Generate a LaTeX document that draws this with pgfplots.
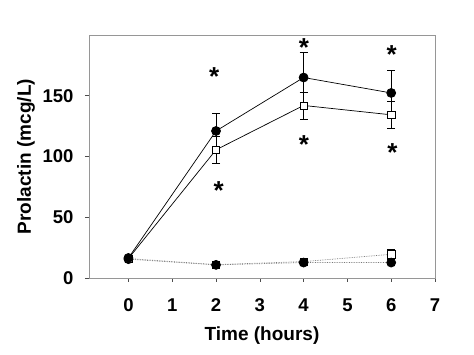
\documentclass[border=0pt]{standalone}
\usepackage{fontspec}
\setmainfont{Liberation Sans}
\usepackage{pgfplots}
\pgfplotsset{compat=1.18}
\usetikzlibrary{calc}
\definecolor{framegray}{RGB}{150,150,150}
\definecolor{dotgray}{RGB}{120,120,120}
\begin{document}
\begin{tikzpicture}
\begin{axis}[
  name=ax, scale only axis, width=346pt, height=243pt,
  xmin=-0.9, xmax=7, ymin=0, ymax=200,
  xtick={0,1,2,3,4,5,6,7}, ytick={0,50,100,150},
  axis line style={draw=framegray, line width=0.8pt},
  tick align=outside, xtick pos=left, ytick pos=left,
  major tick length=4pt,
  tick style={draw=black!70, line width=0.6pt},
  /pgf/number format/assume math mode=true,
  ticklabel style={font=\fontsize{18.5}{20}\selectfont\bfseries},
  xticklabel style={anchor=center, yshift=-23pt},
  yticklabel style={anchor=east, xshift=-8pt},
  xlabel={Time (hours)}, ylabel={Prolactin (mcg/L)},
  label style={font=\fontsize{19}{22}\selectfont\bfseries},
  xlabel style={at={(axis description cs:0.5,-0.236)}, anchor=center},
  ylabel style={at={(axis description cs:-0.182,0.5)}, anchor=center},
  clip=false,
  error bars/error bar style={black, line width=0.6pt, solid},
  error bars/error mark options={rotate=90, mark size=4pt, black, line width=0.6pt, solid},
]
% dotted series (controls)
\addplot[dotgray, densely dotted, line width=0.7pt, mark=square*, mark size=3.6pt,
  mark options={solid, fill=white, draw=black, line width=0.6pt},
  error bars/.cd, y dir=both, y explicit]
  coordinates {(0,16) +- (0,1) (2,11) +- (0,1) (4,13.5) +- (0,1.5) (6,19.5) +- (0,4.5)};
\addplot[dotgray, densely dotted, line width=0.7pt, mark=*, mark size=4.5pt,
  mark options={solid, fill=black, draw=black},
  error bars/.cd, y dir=both, y explicit]
  coordinates {(0,15.5) +- (0,1) (2,10.8) +- (0,1) (4,12.7) +- (0,1) (6,12.7) +- (0,1)};
% solid series
\addplot[black, line width=0.7pt, mark=square*, mark size=3.6pt,
  mark options={fill=white, draw=black, line width=0.6pt},
  error bars/.cd, y dir=both, y explicit]
  coordinates {(0,16) +- (0,1) (2,105.5) +- (0,11.2) (4,142) +- (0,11) (6,134.3) +- (0,11.3)};
\addplot[black, line width=0.7pt, mark=*, mark size=4.5pt,
  mark options={fill=black, draw=black},
  error bars/.cd, y dir=both, y explicit]
  coordinates {(0,16.5) +- (0,1) (2,121) +- (0,14.7) (4,165) +- (0,20.5) (6,152.3) +- (0,19)};
% significance asterisks
\foreach \xx/\yy in {1.96/170.5, 2.06/76.5, 4.01/194, 4.01/114.5, 6.01/188.5, 6.03/108}{
  \edef\tmp{\noexpand\node[font=\noexpand\fontsize{26}{26}\noexpand\selectfont\noexpand\bfseries, inner sep=0pt, yshift=-5.5pt] at (axis cs:\xx,\yy) {*};}
  \tmp
}
\end{axis}
\path ($(ax.south west)+(-89pt,-77pt)$) rectangle ($(ax.north east)+(39pt,35pt)$);
\end{tikzpicture}
\end{document}
